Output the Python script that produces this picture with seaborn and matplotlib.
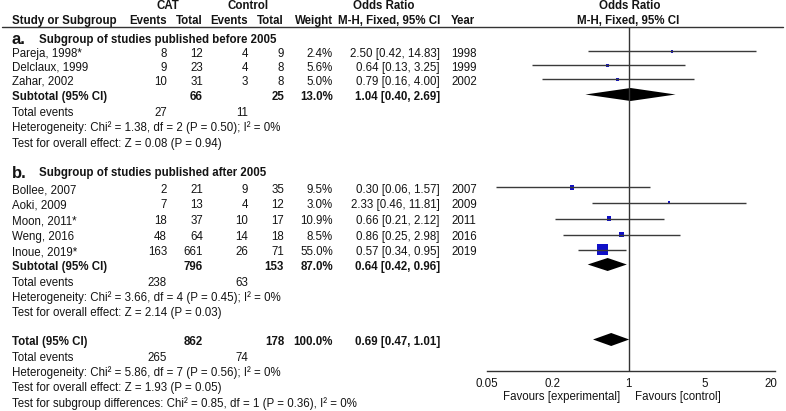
import numpy as np
import pandas as pd
import matplotlib
matplotlib.use('Agg')
import matplotlib.pyplot as plt
import seaborn as sns

# study level data
study = ['Pareja, 1998*', 'Delclaux, 1999', 'Zahar, 2002',
         'Bollee, 2007', 'Aoki, 2009', 'Moon, 2011*', 'Weng, 2016', 'Inoue, 2019*']
group = ['a', 'a', 'a', 'b', 'b', 'b', 'b', 'b']
cat_events = [8, 9, 10, 2, 7, 18, 48, 163]
cat_total = [12, 23, 31, 21, 13, 37, 64, 661]
ctl_events = [4, 4, 3, 9, 4, 10, 14, 26]
ctl_total = [9, 8, 8, 35, 12, 17, 18, 71]
weight = [2.4, 5.6, 5.0, 9.5, 3.0, 10.9, 8.5, 55.0]
odds = [2.50, 0.64, 0.79, 0.30, 2.33, 0.66, 0.86, 0.57]
ci_low = [0.42, 0.13, 0.16, 0.06, 0.46, 0.21, 0.25, 0.34]
ci_high = [14.83, 3.25, 4.00, 1.57, 11.81, 2.12, 2.98, 0.95]
year = [1998, 1999, 2002, 2007, 2009, 2011, 2016, 2019]

# subgroup summaries
sub_id = ['a', 'b']
sub_title = ['Subgroup of studies published before 2005', 'Subgroup of studies published after 2005']
sub_cat_total = [66, 796]
sub_ctl_total = [25, 153]
sub_weight = [13.0, 87.0]
sub_or = [1.04, 0.64]
sub_lo = [0.40, 0.42]
sub_hi = [2.69, 0.96]
sub_cat_events = [27, 238]
sub_ctl_events = [11, 63]
sub_het = ['Heterogeneity: Chi² = 1.38, df = 2 (P = 0.50); I² = 0%',
           'Heterogeneity: Chi² = 3.66, df = 4 (P = 0.45); I² = 0%']
sub_test = ['Test for overall effect: Z = 0.08 (P = 0.94)',
            'Test for overall effect: Z = 2.14 (P = 0.03)']

# overall
tot_cat_total = 862
tot_ctl_total = 178
tot_weight = 100.0
tot_or, tot_lo, tot_hi = 0.69, 0.47, 1.01
tot_cat_events = 265
tot_ctl_events = 74
tot_het = 'Heterogeneity: Chi² = 5.86, df = 7 (P = 0.56); I² = 0%'
tot_test = 'Test for overall effect: Z = 1.93 (P = 0.05)'
sub_diff = 'Test for subgroup differences: Chi² = 0.85, df = 1 (P = 0.36), I² = 0%'

xticks = [0.05, 0.2, 1, 5, 20]
xtick_labels = ['0.05', '0.2', '1', '5', '20']

# layout (pixel rows of text centres)
W, H = 786, 411
study_y = [54, 68, 82, 190, 205, 221, 237, 252]
head_y = [40, 173]
sub_y = [97, 267]
te_y = [113, 283]
het_y = [128, 298]
test_y = [144, 313]
tot_y, tot_te_y, tot_het_y, tot_test_y, diff_y = 342, 358, 373, 388, 404

# column right edges
X_NAME = 12
X_CE, X_CT, X_KE, X_KT, X_W = 167, 203, 248, 284, 333
X_OR = 440
X_YEAR = 451

sns.set_style('white')
plt.rcParams['font.family'] = ['Liberation Sans', 'DejaVu Sans']
FS = 8.3
TXT = '#141414'

fig = plt.figure(figsize=(W / 100, H / 100), dpi=100)
ax0 = fig.add_axes([0, 0, 1, 1])
ax0.set_xlim(0, W)
ax0.set_ylim(H, 0)
ax0.axis('off')


def put(x, y, s, ha='left', bold=False, size=FS):
    ax0.text(x, y, s, ha=ha, va='center', fontsize=size, color=TXT,
             fontweight='bold' if bold else 'normal')


def fmt_or(o, lo, hi):
    return f'{o:.2f} [{lo:.2f}, {hi:.2f}]'


# header
put(168, 6, 'CAT', ha='center', bold=True)
put(248, 6, 'Control', ha='center', bold=True)
put(384, 6, 'Odds Ratio', ha='center', bold=True)
put(630, 6, 'Odds Ratio', ha='center', bold=True)
put(X_NAME, 21, 'Study or Subgroup', bold=True)
put(X_CE, 21, 'Events', ha='right', bold=True)
put(X_CT, 21, 'Total', ha='right', bold=True)
put(X_KE, 21, 'Events', ha='right', bold=True)
put(X_KT, 21, 'Total', ha='right', bold=True)
put(X_W, 21, 'Weight', ha='right', bold=True)
put(X_OR, 21, 'M-H, Fixed, 95% CI', ha='right', bold=True)
put(X_YEAR, 21, 'Year', bold=True)
put(628, 21, 'M-H, Fixed, 95% CI', ha='center', bold=True)
ax0.plot([2, 783], [27, 27], color='#333333', lw=1)

# study rows
for i in range(len(study)):
    y = study_y[i]
    put(X_NAME, y, study[i])
    put(X_CE, y, str(cat_events[i]), ha='right')
    put(X_CT, y, str(cat_total[i]), ha='right')
    put(X_KE, y, str(ctl_events[i]), ha='right')
    put(X_KT, y, str(ctl_total[i]), ha='right')
    put(X_W, y, f'{weight[i]:.1f}%', ha='right')
    put(X_OR, y, fmt_or(odds[i], ci_low[i], ci_high[i]), ha='right')
    put(X_YEAR, y, str(year[i]))

# subgroup rows
for j in range(len(sub_id)):
    put(X_NAME, head_y[j], sub_id[j] + '.', bold=True, size=12)
    put(39, head_y[j], sub_title[j], bold=True)
    put(X_NAME, sub_y[j], 'Subtotal (95% CI)', bold=True)
    put(X_CT, sub_y[j], str(sub_cat_total[j]), ha='right', bold=True)
    put(X_KT, sub_y[j], str(sub_ctl_total[j]), ha='right', bold=True)
    put(X_W, sub_y[j], f'{sub_weight[j]:.1f}%', ha='right', bold=True)
    put(X_OR, sub_y[j], fmt_or(sub_or[j], sub_lo[j], sub_hi[j]), ha='right', bold=True)
    put(X_NAME, te_y[j], 'Total events')
    put(X_CE, te_y[j], str(sub_cat_events[j]), ha='right')
    put(X_KE, te_y[j], str(sub_ctl_events[j]), ha='right')
    put(X_NAME, het_y[j], sub_het[j])
    put(X_NAME, test_y[j], sub_test[j])

# overall rows
put(X_NAME, tot_y, 'Total (95% CI)', bold=True)
put(X_CT, tot_y, str(tot_cat_total), ha='right', bold=True)
put(X_KT, tot_y, str(tot_ctl_total), ha='right', bold=True)
put(X_W, tot_y, f'{tot_weight:.1f}%', ha='right', bold=True)
put(X_OR, tot_y, fmt_or(tot_or, tot_lo, tot_hi), ha='right', bold=True)
put(X_NAME, tot_te_y, 'Total events')
put(X_CE, tot_te_y, str(tot_cat_events), ha='right')
put(X_KE, tot_te_y, str(tot_ctl_events), ha='right')
put(X_NAME, tot_het_y, tot_het)
put(X_NAME, tot_test_y, tot_test)
put(X_NAME, diff_y, sub_diff)

# forest panel, y in pixel rows
PX_L, PX_R, PX_T, PX_B = 487, 775, 27, 371
ax = fig.add_axes([PX_L / W, (H - PX_B) / H, (PX_R - PX_L) / W, (PX_B - PX_T) / H])
ax.set_xscale('log')
ax.set_xlim(0.05, 22)
ax.set_ylim(PX_B, PX_T)
ax.patch.set_alpha(0)
for s in ['top', 'left', 'right']:
    ax.spines[s].set_visible(False)
ax.spines['bottom'].set_color('#333333')
ax.spines['bottom'].set_linewidth(1)
ax.set_yticks([])
ax.set_xticks(xticks)
ax.set_xticklabels(xtick_labels)
ax.xaxis.set_minor_locator(matplotlib.ticker.NullLocator())
ax.tick_params(axis='x', direction='inout', length=8, width=1, color='#333333',
               labelsize=FS, labelcolor=TXT, pad=1)
ax.axvline(1, color='#333333', lw=1)

OFF = 2.5
df = pd.DataFrame({'odds': odds, 'lo': ci_low, 'hi': ci_high,
                   'weight': weight, 'y': [v - OFF for v in study_y]})
ax.hlines(df['y'], df['lo'], df['hi'], color='#3a3a3a', lw=1)
sns.scatterplot(data=df, x='odds', y='y', size='weight', sizes=(0, 60), size_norm=(0, 55),
                marker='s', color='#1010c8', edgecolor='none', legend=False, ax=ax)

# diamonds
HALF = 6.5
for o, lo, hi, y in list(zip(sub_or, sub_lo, sub_hi, sub_y)) + [(tot_or, tot_lo, tot_hi, tot_y)]:
    yc = y - OFF
    ax.fill([lo, o, hi, o], [yc, yc - HALF, yc, yc + HALF], color='black', lw=0)

ax.set_xlabel('')
ax.set_ylabel('')

put(620, 397, 'Favours [experimental]', ha='right')
put(635, 397, 'Favours [control]')

fig.savefig('out.png', dpi=100)
